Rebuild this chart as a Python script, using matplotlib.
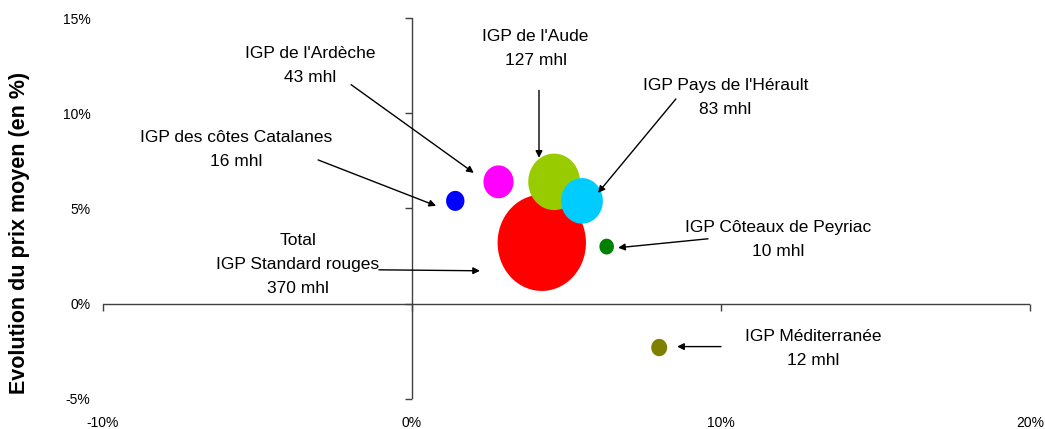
import numpy as np
import matplotlib
matplotlib.use("Agg")
from matplotlib import pyplot as plt
from matplotlib.path import Path

plt.rcParams['font.family'] = ['Liberation Sans', 'DejaVu Sans']

# Data
names = ["IGP de l'Ardèche", "IGP des côtes Catalanes", "Total\nIGP Standard rouges",
         "IGP de l'Aude", "IGP Pays de l'Hérault", "IGP Côteaux de Peyriac",
         "IGP Méditerranée"]
volumes = [43, 16, 370, 127, 83, 10, 12]          # mhl
evol_volume = [2.8, 1.4, 4.2, 4.6, 5.5, 6.3, 8.0]  # x, %
evol_prix = [6.4, 5.4, 3.2, 6.4, 5.4, 3.0, -2.3]   # y, %
colors = ['#FF00FF', '#0000FF', '#FF0000', '#99CC00', '#00CCFF', '#008000', '#808000']

xticks = [-10, 0, 10, 20]
yticks = [-5, 0, 5, 10, 15]

# label placement (text centre, arrow start, arrow end) in data units
text_pos = [(-3.3, 12.5), (-5.7, 8.1), (-3.7, 2.05), (4.0, 13.4),
            (10.15, 10.85), (11.85, 3.35), (13.0, -2.35)]
arrow_from = [(-1.97, 11.5), (-3.04, 7.55), (-1.07, 1.78), (4.11, 11.2),
              (8.54, 10.75), (9.58, 3.41), (10.0, -2.25)]
arrow_to = [(2.0, 6.87), (0.78, 5.14), (2.2, 1.73), (4.11, 7.66),
            (6.02, 5.82), (6.67, 2.94), (8.58, -2.25)]

fig = plt.figure(figsize=(10.45, 4.29), dpi=100)
ax = fig.add_axes([0.0986, 0.070, 0.887, 0.888])
ax.set_xlim(-10, 20)
ax.set_ylim(-5, 15)

# slightly tall ellipse marker like the original
t = np.linspace(0, 2 * np.pi, 100)
ell = Path(np.column_stack([np.cos(t) / 1.09, np.sin(t)]), closed=True)

order = np.argsort(volumes)[::-1]
for k, i in enumerate(order):
    ax.scatter(evol_volume[i], evol_prix[i], s=volumes[i] * 13.0, marker=ell,
               color=colors[i], edgecolors='none', zorder=3 + k)

# axes crossing at zero
axcol = '#404040'
ax.axhline(0, color=axcol, lw=1, zorder=1)
ax.axvline(0, color=axcol, lw=1, zorder=1)
ax.plot([0] * len(yticks), yticks, ls='none', marker=0, ms=5, mew=1,
        color=axcol, clip_on=False, zorder=1)
ax.plot(xticks, [0] * len(xticks), ls='none', marker=3, ms=5, mew=1,
        color=axcol, clip_on=False, zorder=1)

for s in ax.spines.values():
    s.set_visible(False)
ax.set_xticks(xticks)
ax.set_xticklabels([f"{v}%" for v in xticks])
ax.set_yticks(yticks)
ax.set_yticklabels([f"{v}%" for v in yticks])
ax.tick_params(length=0, labelsize=10)
ax.tick_params(axis='y', pad=9)
ax.tick_params(axis='x', pad=12)

ax.set_ylabel("Evolution du prix moyen (en %)", fontsize=15.5, fontweight='bold')
ax.yaxis.set_label_coords(-0.079, 0.437)

for i in range(len(names)):
    ax.text(text_pos[i][0], text_pos[i][1], f"{names[i]}\n{volumes[i]} mhl",
            ha='center', va='center', fontsize=12.5, linespacing=1.75, zorder=20)
    ax.annotate("", xy=arrow_to[i], xytext=arrow_from[i],
                arrowprops=dict(arrowstyle='-|>', color='black', lw=1,
                                mutation_scale=10, shrinkA=0, shrinkB=0),
                zorder=20)

fig.savefig("out.png", dpi=100)
